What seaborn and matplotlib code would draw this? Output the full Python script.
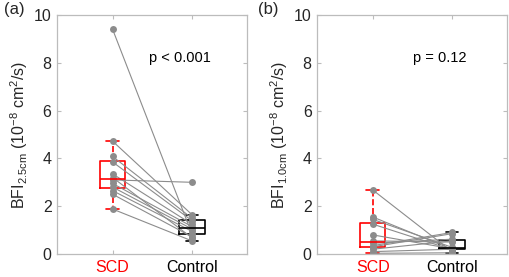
import numpy as np
import pandas as pd
import seaborn as sns
import matplotlib.pyplot as plt

groups = ['SCD', 'Control']

# panel (a) BFI at 2.5 cm, paired per subject
scd_a = [9.4, 4.72, 4.08, 3.85, 3.35, 3.2, 3.1, 2.95, 2.8, 2.65, 2.5, 1.88]
ctl_a = [0.85, 1.65, 1.5, 1.4, 1.25, 0.68, 3.0, 1.15, 1.05, 0.95, 0.72, 0.55]

# panel (b) BFI at 1.0 cm
scd_b = [2.68, 1.55, 1.45, 1.25, 0.8, 0.55, 0.45, 0.35, 0.3, 0.2, 0.1, 0.03]
ctl_b = [0.1, 0.2, 0.28, 0.18, 0.22, 0.5, 0.62, 0.9, 0.85, 0.55, 0.2, 0.05]

p_texts = ['p < 0.001', 'p = 0.12']
ylabels = ['BFI$_{2.5cm}$ (10$^{-8}$ cm$^2$/s)', 'BFI$_{1.0cm}$ (10$^{-8}$ cm$^2$/s)']
panel_tags = ['(a)', '(b)']
whis_list = [1.5, (0, 100)]

sns.set_style('white')
plt.rcParams['font.family'] = ['Liberation Sans', 'DejaVu Sans']
plt.rcParams['mathtext.fontset'] = 'custom'
plt.rcParams['mathtext.rm'] = 'Liberation Sans'
plt.rcParams['mathtext.it'] = 'Liberation Sans'
plt.rcParams['mathtext.default'] = 'regular'

edge = '#bcbcbc'
txt = '#262626'


def make_df(scd, ctl):
    n = len(scd)
    df = pd.DataFrame({
        'subject': list(range(n)) * 2,
        'group': ['SCD'] * n + ['Control'] * n,
        'pos': [0] * n + [1] * n,
        'bfi': scd + ctl,
    })
    return df


fig = plt.figure(figsize=(5.1, 2.77), dpi=100)
ax1 = fig.add_axes([0.112, 0.083, 0.373, 0.863])
ax2 = fig.add_axes([0.622, 0.083, 0.373, 0.863])

data = [(scd_a, ctl_a), (scd_b, ctl_b)]
for i, ax in enumerate([ax1, ax2]):
    df = make_df(*data[i])
    sns.boxplot(data=df, x='group', y='bfi', hue='group', order=groups,
                palette={'SCD': 'red', 'Control': 'black'}, fill=False,
                width=0.32, showfliers=False, linewidth=1.2, legend=False,
                whis=whis_list[i], whiskerprops={'linestyle': '--'}, ax=ax)
    sns.lineplot(data=df, x='pos', y='bfi', units='subject', estimator=None,
                 color='#8c8c8c', linewidth=0.8, marker='o', markersize=5,
                 markeredgewidth=0, ax=ax)
    ax.set_xlim(-0.7, 1.7)
    ax.set_ylim(0, 10)
    ax.set_yticks(range(0, 11, 2))
    ax.set_xticks([0, 1])
    ax.set_xticklabels(groups)
    ax.get_xticklabels()[0].set_color('red')
    ax.get_xticklabels()[1].set_color('black')
    for lab in ax.get_yticklabels():
        lab.set_color(txt)
    ax.set_xlabel('')
    ax.set_ylabel(ylabels[i], fontsize=11.5, color=txt, labelpad=3)
    ax.tick_params(axis='both', labelsize=11.5, direction='in', length=3,
                   color=edge, left=True, right=True, bottom=True, top=True, pad=4)
    for s in ax.spines.values():
        s.set_color(edge)
        s.set_linewidth(0.9)
        s.set_visible(True)
    ax.text(0.85, 8.2, p_texts[i], fontsize=10.5, ha='center', va='center', color='black')

fig.text(0.008, 0.965, panel_tags[0], fontsize=12, ha='left', va='center', color=txt)
fig.text(0.505, 0.965, panel_tags[1], fontsize=12, ha='left', va='center', color=txt)

plt.savefig('out.png', dpi=100)
